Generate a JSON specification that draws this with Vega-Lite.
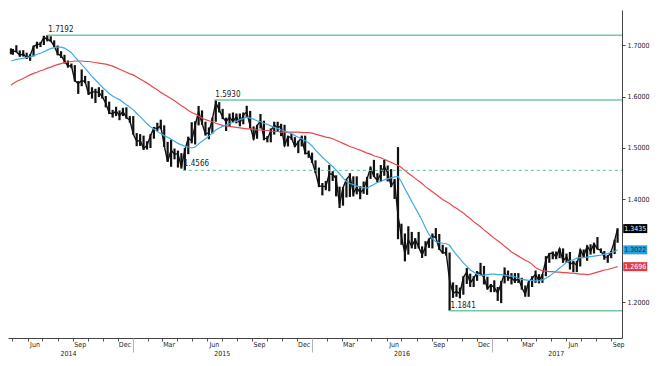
{
"$schema": "https://vega.github.io/schema/vega-lite/v6.json",
"width": 614, "height": 328,
"autosize": {"type": "none"},
"padding": {"left": 8, "top": 10, "right": 40, "bottom": 28},
"background": "#ffffff",
"config": {"view": {"stroke": null}, "font": "Liberation Sans Narrow, DejaVu Sans Condensed, Arial Narrow, sans-serif",
  "axis": {"grid": false, "labelFont": "Liberation Sans Narrow, DejaVu Sans Condensed, Arial Narrow, sans-serif", "labelFlush": false, "labelOverlap": false},
  "text": {"font": "Liberation Sans Narrow, DejaVu Sans Condensed, Arial Narrow, sans-serif"}},
"resolve": {"axis": {"x": "independent", "y": "independent"}},
"datasets": {
"px": [
{"d":"2014-04-28","c":1.6880,"h":1.6935,"l":1.6820,"ma50":1.669,"ma200":1.622},
{"d":"2014-05-02","c":1.6885,"h":1.6925,"l":1.6810,"ma50":1.670,"ma200":1.625},
{"d":"2014-05-09","c":1.6870,"h":1.6996,"l":1.6860,"ma50":1.672,"ma200":1.629},
{"d":"2014-05-16","c":1.6800,"h":1.6895,"l":1.6770,"ma50":1.673,"ma200":1.632},
{"d":"2014-05-23","c":1.6830,"h":1.6900,"l":1.6775,"ma50":1.674,"ma200":1.635},
{"d":"2014-05-30","c":1.6750,"h":1.6850,"l":1.6730,"ma50":1.676,"ma200":1.639},
{"d":"2014-06-06","c":1.6795,"h":1.6820,"l":1.6693,"ma50":1.677,"ma200":1.642},
{"d":"2014-06-13","c":1.6970,"h":1.6990,"l":1.6780,"ma50":1.679,"ma200":1.645},
{"d":"2014-06-20","c":1.7010,"h":1.7064,"l":1.6930,"ma50":1.682,"ma200":1.647},
{"d":"2014-06-27","c":1.7020,"h":1.7060,"l":1.6960,"ma50":1.684,"ma200":1.650},
{"d":"2014-07-04","c":1.7150,"h":1.7180,"l":1.7000,"ma50":1.687,"ma200":1.652},
{"d":"2014-07-11","c":1.7110,"h":1.7192,"l":1.7070,"ma50":1.690,"ma200":1.655},
{"d":"2014-07-18","c":1.7080,"h":1.7170,"l":1.7060,"ma50":1.693,"ma200":1.657},
{"d":"2014-07-25","c":1.6980,"h":1.7090,"l":1.6960,"ma50":1.695,"ma200":1.660},
{"d":"2014-08-01","c":1.6830,"h":1.6990,"l":1.6800,"ma50":1.696,"ma200":1.662},
{"d":"2014-08-08","c":1.6790,"h":1.6880,"l":1.6750,"ma50":1.696,"ma200":1.664},
{"d":"2014-08-15","c":1.6690,"h":1.6810,"l":1.6640,"ma50":1.694,"ma200":1.666},
{"d":"2014-08-22","c":1.6590,"h":1.6700,"l":1.6560,"ma50":1.690,"ma200":1.667},
{"d":"2014-08-29","c":1.6600,"h":1.6640,"l":1.6550,"ma50":1.685,"ma200":1.668},
{"d":"2014-09-05","c":1.6310,"h":1.6610,"l":1.6290,"ma50":1.677,"ma200":1.669},
{"d":"2014-09-12","c":1.6250,"h":1.6300,"l":1.6051,"ma50":1.670,"ma200":1.669},
{"d":"2014-09-19","c":1.6310,"h":1.6525,"l":1.6200,"ma50":1.662,"ma200":1.669},
{"d":"2014-09-26","c":1.6290,"h":1.6400,"l":1.6260,"ma50":1.655,"ma200":1.668},
{"d":"2014-10-03","c":1.6050,"h":1.6300,"l":1.6030,"ma50":1.647,"ma200":1.668},
{"d":"2014-10-10","c":1.6090,"h":1.6180,"l":1.5960,"ma50":1.639,"ma200":1.667},
{"d":"2014-10-17","c":1.6090,"h":1.6150,"l":1.5875,"ma50":1.632,"ma200":1.666},
{"d":"2014-10-24","c":1.6080,"h":1.6180,"l":1.5990,"ma50":1.625,"ma200":1.665},
{"d":"2014-10-31","c":1.5995,"h":1.6130,"l":1.5960,"ma50":1.618,"ma200":1.664},
{"d":"2014-11-07","c":1.5870,"h":1.6010,"l":1.5790,"ma50":1.612,"ma200":1.663},
{"d":"2014-11-14","c":1.5680,"h":1.5900,"l":1.5660,"ma50":1.606,"ma200":1.661},
{"d":"2014-11-21","c":1.5660,"h":1.5740,"l":1.5590,"ma50":1.601,"ma200":1.659},
{"d":"2014-11-28","c":1.5720,"h":1.5800,"l":1.5620,"ma50":1.597,"ma200":1.656},
{"d":"2014-12-05","c":1.5630,"h":1.5730,"l":1.5540,"ma50":1.594,"ma200":1.653},
{"d":"2014-12-12","c":1.5710,"h":1.5780,"l":1.5620,"ma50":1.589,"ma200":1.650},
{"d":"2014-12-19","c":1.5590,"h":1.5790,"l":1.5570,"ma50":1.584,"ma200":1.647},
{"d":"2014-12-26","c":1.5540,"h":1.5620,"l":1.5490,"ma50":1.579,"ma200":1.644},
{"d":"2015-01-02","c":1.5270,"h":1.5620,"l":1.5260,"ma50":1.574,"ma200":1.642},
{"d":"2015-01-09","c":1.5130,"h":1.5290,"l":1.5035,"ma50":1.567,"ma200":1.638},
{"d":"2015-01-16","c":1.5150,"h":1.5270,"l":1.5040,"ma50":1.561,"ma200":1.634},
{"d":"2015-01-23","c":1.4990,"h":1.5240,"l":1.4960,"ma50":1.554,"ma200":1.630},
{"d":"2015-01-30","c":1.5050,"h":1.5130,"l":1.4970,"ma50":1.547,"ma200":1.626},
{"d":"2015-02-06","c":1.5240,"h":1.5270,"l":1.5000,"ma50":1.541,"ma200":1.622},
{"d":"2015-02-13","c":1.5390,"h":1.5410,"l":1.5180,"ma50":1.537,"ma200":1.617},
{"d":"2015-02-20","c":1.5380,"h":1.5490,"l":1.5330,"ma50":1.532,"ma200":1.613},
{"d":"2015-02-27","c":1.5430,"h":1.5550,"l":1.5360,"ma50":1.528,"ma200":1.608},
{"d":"2015-03-06","c":1.5050,"h":1.5440,"l":1.5020,"ma50":1.524,"ma200":1.604},
{"d":"2015-03-13","c":1.4730,"h":1.5120,"l":1.4730,"ma50":1.521,"ma200":1.600},
{"d":"2015-03-20","c":1.4960,"h":1.5160,"l":1.4635,"ma50":1.517,"ma200":1.596},
{"d":"2015-03-27","c":1.4880,"h":1.4990,"l":1.4780,"ma50":1.513,"ma200":1.592},
{"d":"2015-04-03","c":1.4890,"h":1.4950,"l":1.4620,"ma50":1.509,"ma200":1.587},
{"d":"2015-04-10","c":1.4630,"h":1.4900,"l":1.4600,"ma50":1.506,"ma200":1.582},
{"d":"2015-04-17","c":1.4960,"h":1.5000,"l":1.4566,"ma50":1.503,"ma200":1.578},
{"d":"2015-04-24","c":1.5190,"h":1.5220,"l":1.4880,"ma50":1.502,"ma200":1.573},
{"d":"2015-05-01","c":1.5140,"h":1.5500,"l":1.5090,"ma50":1.500,"ma200":1.569},
{"d":"2015-05-08","c":1.5440,"h":1.5520,"l":1.5070,"ma50":1.502,"ma200":1.566},
{"d":"2015-05-15","c":1.5710,"h":1.5815,"l":1.5440,"ma50":1.508,"ma200":1.562},
{"d":"2015-05-22","c":1.5480,"h":1.5730,"l":1.5450,"ma50":1.513,"ma200":1.558},
{"d":"2015-05-29","c":1.5270,"h":1.5510,"l":1.5240,"ma50":1.518,"ma200":1.555},
{"d":"2015-06-05","c":1.5300,"h":1.5400,"l":1.5170,"ma50":1.523,"ma200":1.553},
{"d":"2015-06-12","c":1.5560,"h":1.5590,"l":1.5280,"ma50":1.529,"ma200":1.551},
{"d":"2015-06-19","c":1.5880,"h":1.5930,"l":1.5510,"ma50":1.535,"ma200":1.548},
{"d":"2015-06-26","c":1.5740,"h":1.5890,"l":1.5690,"ma50":1.539,"ma200":1.546},
{"d":"2015-07-03","c":1.5600,"h":1.5760,"l":1.5560,"ma50":1.542,"ma200":1.544},
{"d":"2015-07-10","c":1.5510,"h":1.5590,"l":1.5330,"ma50":1.545,"ma200":1.543},
{"d":"2015-07-17","c":1.5600,"h":1.5670,"l":1.5410,"ma50":1.547,"ma200":1.542},
{"d":"2015-07-24","c":1.5510,"h":1.5690,"l":1.5500,"ma50":1.550,"ma200":1.541},
{"d":"2015-07-31","c":1.5610,"h":1.5670,"l":1.5480,"ma50":1.552,"ma200":1.540},
{"d":"2015-08-07","c":1.5480,"h":1.5670,"l":1.5420,"ma50":1.555,"ma200":1.539},
{"d":"2015-08-14","c":1.5640,"h":1.5690,"l":1.5460,"ma50":1.557,"ma200":1.538},
{"d":"2015-08-21","c":1.5700,"h":1.5820,"l":1.5600,"ma50":1.560,"ma200":1.537},
{"d":"2015-08-28","c":1.5420,"h":1.5720,"l":1.5380,"ma50":1.558,"ma200":1.537},
{"d":"2015-09-04","c":1.5180,"h":1.5420,"l":1.5160,"ma50":1.556,"ma200":1.536},
{"d":"2015-09-11","c":1.5430,"h":1.5450,"l":1.5180,"ma50":1.553,"ma200":1.535},
{"d":"2015-09-18","c":1.5530,"h":1.5660,"l":1.5380,"ma50":1.551,"ma200":1.535},
{"d":"2015-09-25","c":1.5190,"h":1.5530,"l":1.5150,"ma50":1.548,"ma200":1.534},
{"d":"2015-10-02","c":1.5180,"h":1.5230,"l":1.5110,"ma50":1.546,"ma200":1.534},
{"d":"2015-10-09","c":1.5330,"h":1.5380,"l":1.5110,"ma50":1.543,"ma200":1.533},
{"d":"2015-10-16","c":1.5450,"h":1.5510,"l":1.5260,"ma50":1.540,"ma200":1.532},
{"d":"2015-10-23","c":1.5390,"h":1.5510,"l":1.5330,"ma50":1.538,"ma200":1.532},
{"d":"2015-10-30","c":1.5430,"h":1.5470,"l":1.5230,"ma50":1.535,"ma200":1.531},
{"d":"2015-11-06","c":1.5050,"h":1.5450,"l":1.5030,"ma50":1.533,"ma200":1.531},
{"d":"2015-11-13","c":1.5220,"h":1.5240,"l":1.5030,"ma50":1.530,"ma200":1.531},
{"d":"2015-11-20","c":1.5200,"h":1.5280,"l":1.5160,"ma50":1.528,"ma200":1.531},
{"d":"2015-11-27","c":1.5030,"h":1.5210,"l":1.5020,"ma50":1.524,"ma200":1.531},
{"d":"2015-12-04","c":1.5120,"h":1.5140,"l":1.4900,"ma50":1.521,"ma200":1.531},
{"d":"2015-12-11","c":1.5210,"h":1.5240,"l":1.5030,"ma50":1.518,"ma200":1.530},
{"d":"2015-12-18","c":1.4890,"h":1.5240,"l":1.4880,"ma50":1.514,"ma200":1.530},
{"d":"2015-12-25","c":1.4900,"h":1.4950,"l":1.4810,"ma50":1.510,"ma200":1.530},
{"d":"2016-01-01","c":1.4740,"h":1.4910,"l":1.4710,"ma50":1.504,"ma200":1.529},
{"d":"2016-01-08","c":1.4530,"h":1.4760,"l":1.4510,"ma50":1.496,"ma200":1.527},
{"d":"2016-01-15","c":1.4260,"h":1.4620,"l":1.4240,"ma50":1.489,"ma200":1.525},
{"d":"2016-01-22","c":1.4260,"h":1.4320,"l":1.4080,"ma50":1.482,"ma200":1.523},
{"d":"2016-01-29","c":1.4250,"h":1.4360,"l":1.4180,"ma50":1.476,"ma200":1.521},
{"d":"2016-02-05","c":1.4500,"h":1.4670,"l":1.4160,"ma50":1.470,"ma200":1.520},
{"d":"2016-02-12","c":1.4490,"h":1.4550,"l":1.4360,"ma50":1.464,"ma200":1.518},
{"d":"2016-02-19","c":1.4400,"h":1.4470,"l":1.4060,"ma50":1.457,"ma200":1.515},
{"d":"2016-02-26","c":1.3900,"h":1.4250,"l":1.3835,"ma50":1.450,"ma200":1.512},
{"d":"2016-03-04","c":1.4230,"h":1.4240,"l":1.3880,"ma50":1.442,"ma200":1.509},
{"d":"2016-03-11","c":1.4390,"h":1.4390,"l":1.4040,"ma50":1.435,"ma200":1.506},
{"d":"2016-03-18","c":1.4470,"h":1.4510,"l":1.4050,"ma50":1.431,"ma200":1.503},
{"d":"2016-03-25","c":1.4120,"h":1.4450,"l":1.4060,"ma50":1.429,"ma200":1.501},
{"d":"2016-04-01","c":1.4230,"h":1.4450,"l":1.4100,"ma50":1.426,"ma200":1.498},
{"d":"2016-04-08","c":1.4130,"h":1.4260,"l":1.4005,"ma50":1.424,"ma200":1.496},
{"d":"2016-04-15","c":1.4200,"h":1.4350,"l":1.4110,"ma50":1.423,"ma200":1.493},
{"d":"2016-04-22","c":1.4400,"h":1.4440,"l":1.4090,"ma50":1.422,"ma200":1.490},
{"d":"2016-04-29","c":1.4610,"h":1.4640,"l":1.4400,"ma50":1.426,"ma200":1.488},
{"d":"2016-05-06","c":1.4450,"h":1.4770,"l":1.4440,"ma50":1.429,"ma200":1.485},
{"d":"2016-05-13","c":1.4370,"h":1.4510,"l":1.4330,"ma50":1.433,"ma200":1.483},
{"d":"2016-05-20","c":1.4500,"h":1.4670,"l":1.4350,"ma50":1.435,"ma200":1.481},
{"d":"2016-05-27","c":1.4640,"h":1.4770,"l":1.4460,"ma50":1.438,"ma200":1.478},
{"d":"2016-06-03","c":1.4520,"h":1.4660,"l":1.4350,"ma50":1.440,"ma200":1.475},
{"d":"2016-06-10","c":1.4260,"h":1.4590,"l":1.4240,"ma50":1.442,"ma200":1.472},
{"d":"2016-06-17","c":1.4360,"h":1.4400,"l":1.4010,"ma50":1.444,"ma200":1.469},
{"d":"2016-06-24","c":1.3680,"h":1.5018,"l":1.3229,"ma50":1.445,"ma200":1.466},
{"d":"2016-07-01","c":1.3280,"h":1.3530,"l":1.3120,"ma50":1.434,"ma200":1.462},
{"d":"2016-07-08","c":1.2950,"h":1.3340,"l":1.2798,"ma50":1.421,"ma200":1.456},
{"d":"2016-07-15","c":1.3220,"h":1.3480,"l":1.2930,"ma50":1.409,"ma200":1.451},
{"d":"2016-07-22","c":1.3090,"h":1.3370,"l":1.3050,"ma50":1.396,"ma200":1.446},
{"d":"2016-07-29","c":1.3220,"h":1.3250,"l":1.3040,"ma50":1.384,"ma200":1.441},
{"d":"2016-08-05","c":1.3080,"h":1.3370,"l":1.3050,"ma50":1.372,"ma200":1.436},
{"d":"2016-08-12","c":1.2920,"h":1.3090,"l":1.2865,"ma50":1.359,"ma200":1.431},
{"d":"2016-08-19","c":1.3080,"h":1.3190,"l":1.2900,"ma50":1.345,"ma200":1.425},
{"d":"2016-08-26","c":1.3230,"h":1.3240,"l":1.3060,"ma50":1.332,"ma200":1.420},
{"d":"2016-09-02","c":1.3290,"h":1.3340,"l":1.3050,"ma50":1.324,"ma200":1.415},
{"d":"2016-09-09","c":1.3260,"h":1.3445,"l":1.3250,"ma50":1.318,"ma200":1.410},
{"d":"2016-09-16","c":1.3040,"h":1.3330,"l":1.3020,"ma50":1.316,"ma200":1.405},
{"d":"2016-09-23","c":1.2960,"h":1.3120,"l":1.2950,"ma50":1.315,"ma200":1.400},
{"d":"2016-09-30","c":1.2970,"h":1.3070,"l":1.2910,"ma50":1.314,"ma200":1.396},
{"d":"2016-10-07","c":1.2430,"h":1.2970,"l":1.1841,"ma50":1.311,"ma200":1.392},
{"d":"2016-10-14","c":1.2180,"h":1.2390,"l":1.2090,"ma50":1.301,"ma200":1.387},
{"d":"2016-10-21","c":1.2210,"h":1.2340,"l":1.2110,"ma50":1.293,"ma200":1.383},
{"d":"2016-10-28","c":1.2170,"h":1.2290,"l":1.2080,"ma50":1.285,"ma200":1.378},
{"d":"2016-11-04","c":1.2490,"h":1.2510,"l":1.2150,"ma50":1.277,"ma200":1.374},
{"d":"2016-11-11","c":1.2590,"h":1.2670,"l":1.2360,"ma50":1.270,"ma200":1.368},
{"d":"2016-11-18","c":1.2380,"h":1.2560,"l":1.2300,"ma50":1.263,"ma200":1.363},
{"d":"2016-11-25","c":1.2470,"h":1.2510,"l":1.2300,"ma50":1.259,"ma200":1.357},
{"d":"2016-12-02","c":1.2580,"h":1.2610,"l":1.2420,"ma50":1.255,"ma200":1.352},
{"d":"2016-12-09","c":1.2560,"h":1.2770,"l":1.2550,"ma50":1.252,"ma200":1.347},
{"d":"2016-12-16","c":1.2490,"h":1.2710,"l":1.2350,"ma50":1.253,"ma200":1.341},
{"d":"2016-12-23","c":1.2270,"h":1.2500,"l":1.2250,"ma50":1.254,"ma200":1.336},
{"d":"2016-12-30","c":1.2340,"h":1.2360,"l":1.2200,"ma50":1.255,"ma200":1.330},
{"d":"2017-01-06","c":1.2290,"h":1.2430,"l":1.2200,"ma50":1.255,"ma200":1.325},
{"d":"2017-01-13","c":1.2180,"h":1.2300,"l":1.2030,"ma50":1.254,"ma200":1.320},
{"d":"2017-01-20","c":1.2370,"h":1.2420,"l":1.1988,"ma50":1.254,"ma200":1.315},
{"d":"2017-01-27","c":1.2570,"h":1.2680,"l":1.2370,"ma50":1.253,"ma200":1.309},
{"d":"2017-02-03","c":1.2480,"h":1.2620,"l":1.2420,"ma50":1.252,"ma200":1.304},
{"d":"2017-02-10","c":1.2480,"h":1.2570,"l":1.2350,"ma50":1.251,"ma200":1.298},
{"d":"2017-02-17","c":1.2410,"h":1.2570,"l":1.2380,"ma50":1.250,"ma200":1.294},
{"d":"2017-02-24","c":1.2470,"h":1.2570,"l":1.2380,"ma50":1.247,"ma200":1.290},
{"d":"2017-03-03","c":1.2290,"h":1.2480,"l":1.2250,"ma50":1.245,"ma200":1.286},
{"d":"2017-03-10","c":1.2160,"h":1.2330,"l":1.2110,"ma50":1.244,"ma200":1.282},
{"d":"2017-03-17","c":1.2400,"h":1.2410,"l":1.2110,"ma50":1.243,"ma200":1.279},
{"d":"2017-03-24","c":1.2470,"h":1.2510,"l":1.2300,"ma50":1.243,"ma200":1.274},
{"d":"2017-03-31","c":1.2550,"h":1.2620,"l":1.2380,"ma50":1.242,"ma200":1.268},
{"d":"2017-04-07","c":1.2420,"h":1.2550,"l":1.2370,"ma50":1.242,"ma200":1.264},
{"d":"2017-04-14","c":1.2540,"h":1.2550,"l":1.2380,"ma50":1.244,"ma200":1.262},
{"d":"2017-04-21","c":1.2820,"h":1.2900,"l":1.2510,"ma50":1.247,"ma200":1.261},
{"d":"2017-04-28","c":1.2950,"h":1.2960,"l":1.2770,"ma50":1.251,"ma200":1.260},
{"d":"2017-05-05","c":1.2960,"h":1.2990,"l":1.2840,"ma50":1.256,"ma200":1.260},
{"d":"2017-05-12","c":1.2880,"h":1.2990,"l":1.2840,"ma50":1.261,"ma200":1.259},
{"d":"2017-05-19","c":1.3050,"h":1.3050,"l":1.2860,"ma50":1.267,"ma200":1.259},
{"d":"2017-05-26","c":1.2800,"h":1.3050,"l":1.2770,"ma50":1.272,"ma200":1.258},
{"d":"2017-06-02","c":1.2890,"h":1.2950,"l":1.2770,"ma50":1.278,"ma200":1.258},
{"d":"2017-06-09","c":1.2740,"h":1.2980,"l":1.2640,"ma50":1.281,"ma200":1.257},
{"d":"2017-06-16","c":1.2780,"h":1.2810,"l":1.2590,"ma50":1.283,"ma200":1.257},
{"d":"2017-06-23","c":1.2720,"h":1.2810,"l":1.2590,"ma50":1.286,"ma200":1.256},
{"d":"2017-06-30","c":1.3030,"h":1.3030,"l":1.2700,"ma50":1.287,"ma200":1.255},
{"d":"2017-07-07","c":1.2890,"h":1.3030,"l":1.2880,"ma50":1.287,"ma200":1.255},
{"d":"2017-07-14","c":1.3100,"h":1.3110,"l":1.2810,"ma50":1.288,"ma200":1.254},
{"d":"2017-07-21","c":1.2990,"h":1.3130,"l":1.2930,"ma50":1.289,"ma200":1.255},
{"d":"2017-07-28","c":1.3140,"h":1.3160,"l":1.2950,"ma50":1.290,"ma200":1.257},
{"d":"2017-08-04","c":1.3040,"h":1.3270,"l":1.3030,"ma50":1.291,"ma200":1.259},
{"d":"2017-08-11","c":1.3010,"h":1.3050,"l":1.2960,"ma50":1.292,"ma200":1.261},
{"d":"2017-08-18","c":1.2880,"h":1.3000,"l":1.2830,"ma50":1.294,"ma200":1.263},
{"d":"2017-08-25","c":1.2880,"h":1.2920,"l":1.2770,"ma50":1.295,"ma200":1.264},
{"d":"2017-09-01","c":1.2990,"h":1.3000,"l":1.2860,"ma50":1.297,"ma200":1.266},
{"d":"2017-09-08","c":1.3200,"h":1.3220,"l":1.2940,"ma50":1.299,"ma200":1.268},
{"d":"2017-09-14","c":1.3435,"h":1.3440,"l":1.3160,"ma50":1.3022,"ma200":1.2696}
],
"lv": [
{"d":"2014-07-11","v":1.7192},
{"d":"2015-06-16","v":1.5930},
{"d":"2016-10-07","v":1.1841}
],
"lvd": [
{"d":"2015-04-13","v":1.4566}
],
"tags": [
{"s":"Price","v":1.3435},
{"s":"50D MA","v":1.3022},
{"s":"200D MA","v":1.2696}
]
},
"layer": [
{"data": {"name": "px"},
 "mark": {"type": "rule", "color": "#111111", "strokeWidth": 2.2},
 "encoding": {
  "x": {"field": "d", "type": "temporal",
    "scale": {"type": "utc", "domain": [{"year": 2014, "month": 4, "date": 22, "utc": true}, {"year": 2017, "month": 9, "date": 23, "utc": true}]},
    "axis": {"title": null, "orient": "bottom", "tickCount": {"interval": "month", "step": 1}, "labels": false, "tickSize": 3, "tickColor": "#555555", "domainColor": "#444444", "domainWidth": 1}},
  "y": {"field": "l", "type": "quantitative",
    "scale": {"domain": [1.131, 1.768], "nice": false, "zero": false},
    "axis": {"title": null, "orient": "right", "values": [1.2, 1.4, 1.5, 1.6, 1.7], "format": ".4f", "tickSize": 3, "tickColor": "#444444", "domain": true, "domainColor": "#444444", "labelFontSize": 7, "labelColor": "#222222", "labelPadding": 2}},
  "y2": {"field": "h"}
 }},
{"data": {"name": "px"},
 "mark": {"type": "line", "color": "#111111", "strokeWidth": 1.4},
 "encoding": {
  "x": {"field": "d", "type": "temporal",
    "axis": {"title": null, "orient": "bottom", "format": "%b", "ticks": false, "tickSize": 0, "domain": false, "labelFontSize": 7, "labelColor": "#222222", "labelPadding": 2,
      "values": [
        {"year": 2014, "month": 6, "date": 15, "utc": true}, {"year": 2014, "month": 9, "date": 15, "utc": true}, {"year": 2014, "month": 12, "date": 15, "utc": true},
        {"year": 2015, "month": 3, "date": 15, "utc": true}, {"year": 2015, "month": 6, "date": 15, "utc": true}, {"year": 2015, "month": 9, "date": 15, "utc": true}, {"year": 2015, "month": 12, "date": 15, "utc": true},
        {"year": 2016, "month": 3, "date": 15, "utc": true}, {"year": 2016, "month": 6, "date": 15, "utc": true}, {"year": 2016, "month": 9, "date": 15, "utc": true}, {"year": 2016, "month": 12, "date": 15, "utc": true},
        {"year": 2017, "month": 3, "date": 15, "utc": true}, {"year": 2017, "month": 6, "date": 15, "utc": true}, {"year": 2017, "month": 9, "date": 15, "utc": true}]}},
  "y": {"field": "c", "type": "quantitative", "axis": null}
 }},
{"data": {"name": "px"},
 "mark": {"type": "line", "color": "#e8474f", "strokeWidth": 1.2},
 "encoding": {
  "x": {"field": "d", "type": "temporal",
    "axis": {"title": null, "orient": "bottom", "format": "%Y", "ticks": false, "tickSize": 0, "domain": false, "labelFontSize": 7, "labelColor": "#222222", "labelPadding": 11,
      "values": [{"year": 2014, "month": 8, "date": 22, "utc": true}, {"year": 2015, "month": 7, "date": 1, "utc": true}, {"year": 2016, "month": 7, "date": 1, "utc": true}, {"year": 2017, "month": 5, "date": 11, "utc": true}]}},
  "y": {"field": "ma200", "type": "quantitative", "axis": null}
 }},
{"data": {"name": "px"},
 "mark": {"type": "line", "color": "#3fa9e2", "strokeWidth": 1.2},
 "encoding": {
  "x": {"field": "d", "type": "temporal",
    "axis": {"title": null, "orient": "bottom", "labels": false, "domain": false, "tickSize": 14, "tickColor": "#b5b5b5",
      "values": [{"year": 2015, "month": 1, "date": 1, "utc": true}, {"year": 2016, "month": 1, "date": 1, "utc": true}, {"year": 2017, "month": 1, "date": 1, "utc": true}]}},
  "y": {"field": "ma50", "type": "quantitative", "axis": null}
 }},
{"data": {"name": "lv"},
 "mark": {"type": "rule", "color": "#74c9a3", "strokeWidth": 1.5},
 "encoding": {
  "x": {"field": "d", "type": "temporal", "axis": null},
  "x2": {"datum": {"year": 2017, "month": 9, "date": 23, "utc": true}},
  "y": {"field": "v", "type": "quantitative", "axis": null}
 }},
{"data": {"name": "lvd"},
 "mark": {"type": "rule", "color": "#62bf96", "strokeWidth": 1, "strokeDash": [3, 3]},
 "encoding": {
  "x": {"field": "d", "type": "temporal", "axis": null},
  "x2": {"datum": {"year": 2017, "month": 9, "date": 23, "utc": true}},
  "y": {"field": "v", "type": "quantitative", "axis": null}
 }},
{"data": {"name": "lv"},
 "mark": {"type": "text", "align": "left", "baseline": "bottom", "dx": 1, "dy": -1, "fontSize": 8, "color": "#222222"},
 "encoding": {
  "x": {"field": "d", "type": "temporal", "axis": null},
  "y": {"field": "v", "type": "quantitative", "axis": null},
  "text": {"field": "v", "type": "quantitative", "format": ".4f"}
 }},
{"data": {"name": "lvd"},
 "mark": {"type": "text", "align": "left", "baseline": "bottom", "dx": 1, "dy": -2, "fontSize": 8, "color": "#222222"},
 "encoding": {
  "x": {"field": "d", "type": "temporal", "axis": null},
  "y": {"field": "v", "type": "quantitative", "axis": null},
  "text": {"field": "v", "type": "quantitative", "format": ".4f"}
 }},
{"data": {"name": "tags"},
 "mark": {"type": "rect", "width": 24, "height": 9},
 "encoding": {
  "x": {"datum": {"year": 2017, "month": 10, "date": 20, "utc": true}, "type": "temporal", "axis": null},
  "y": {"field": "v", "type": "quantitative", "axis": null},
  "color": {"condition": [{"test": "datum.s === 'Price'", "value": "#000000"}, {"test": "datum.s === '50D MA'", "value": "#2b9fdc"}], "value": "#e63a42"}
 }},
{"data": {"name": "tags"},
 "mark": {"type": "text", "align": "center", "baseline": "middle", "fontSize": 7},
 "encoding": {
  "x": {"datum": {"year": 2017, "month": 10, "date": 20, "utc": true}, "type": "temporal", "axis": null},
  "y": {"field": "v", "type": "quantitative", "axis": null},
  "text": {"field": "v", "type": "quantitative", "format": ".4f"},
  "color": {"condition": {"test": "datum.s === '50D MA'", "value": "#0b2a40"}, "value": "#ffffff"}
 }}
]
}
